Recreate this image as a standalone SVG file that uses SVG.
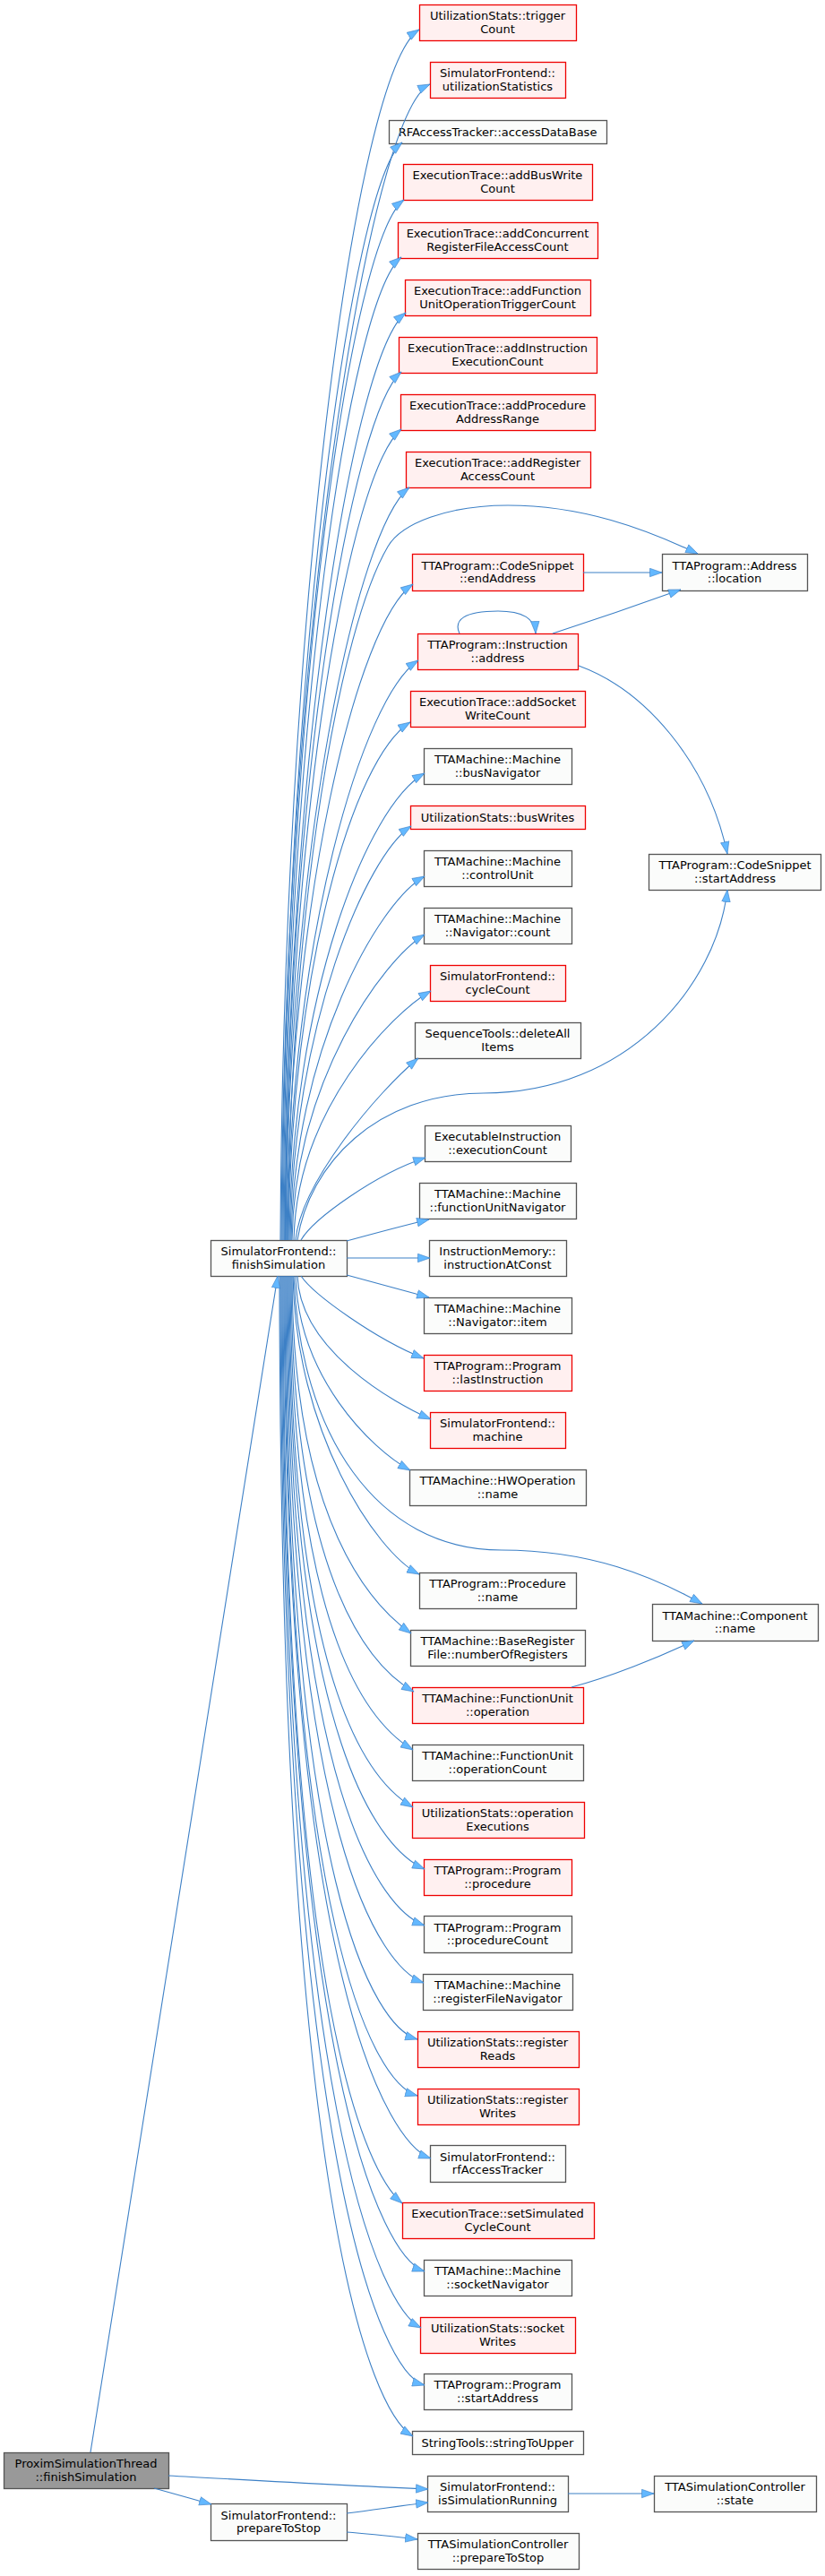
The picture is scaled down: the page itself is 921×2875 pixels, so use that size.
<svg xmlns="http://www.w3.org/2000/svg" width="921" height="2875" viewBox="0 0 921 2875">
<style>
rect.w{fill:#fbfcfb;stroke:#555555;stroke-width:1.3}
rect.r{fill:#fff0f0;stroke:#ee0000;stroke-width:1.3}
rect.g{fill:#999999;stroke:#555555;stroke-width:1.3}
text{font-family:"DejaVu Sans","Liberation Sans",sans-serif;font-size:13px;fill:#000;text-anchor:middle}
#edges path{fill:none;stroke:#3d80c6;stroke-width:1.1;marker-end:url(#ah)}
</style>
<defs>
<marker id="ah" markerUnits="userSpaceOnUse" markerWidth="15" markerHeight="11" viewBox="0 0 15 11" refX="14" refY="5.5" orient="auto">
<path d="M0.5,0.8 L14,5.5 L0.5,10.2 z" fill="#63b8ff" stroke="#3d80c6" stroke-width="0.6"/>
</marker>
</defs>
<rect width="921" height="2875" fill="#ffffff"/>

<g id="n_triggerCount"><rect class="r" x="468.5" y="5.5" width="175" height="40"/><text x="555.5" y="22">UtilizationStats::trigger</text><text x="555.5" y="36.5">Count</text></g>
<g id="n_utilizationStatistics"><rect class="r" x="480.5" y="69.5" width="151" height="40"/><text x="555.5" y="86">SimulatorFrontend::</text><text x="555.5" y="100.5">utilizationStatistics</text></g>
<g id="n_accessDataBase"><rect class="w" x="434.5" y="134.5" width="243" height="26"/><text x="555.5" y="152">RFAccessTracker::accessDataBase</text></g>
<g id="n_addBusWriteCount"><rect class="r" x="450.5" y="183.5" width="211" height="40"/><text x="555.5" y="200">ExecutionTrace::addBusWrite</text><text x="555.5" y="214.5">Count</text></g>
<g id="n_addConcurrent"><rect class="r" x="444.5" y="248.5" width="223" height="40"/><text x="555.5" y="265">ExecutionTrace::addConcurrent</text><text x="555.5" y="279.5">RegisterFileAccessCount</text></g>
<g id="n_addFunctionUnit"><rect class="r" x="452.5" y="312.5" width="207" height="40"/><text x="555.5" y="329">ExecutionTrace::addFunction</text><text x="555.5" y="343.5">UnitOperationTriggerCount</text></g>
<g id="n_addInstruction"><rect class="r" x="445.5" y="376.5" width="221" height="40"/><text x="555.5" y="393">ExecutionTrace::addInstruction</text><text x="555.5" y="407.5">ExecutionCount</text></g>
<g id="n_addProcedure"><rect class="r" x="447.5" y="440.5" width="217" height="40"/><text x="555.5" y="457">ExecutionTrace::addProcedure</text><text x="555.5" y="471.5">AddressRange</text></g>
<g id="n_addRegister"><rect class="r" x="453.5" y="504.5" width="206" height="40"/><text x="555.5" y="521">ExecutionTrace::addRegister</text><text x="555.5" y="535.5">AccessCount</text></g>
<g id="n_location"><rect class="w" x="739.5" y="618.5" width="162" height="41"/><text x="820" y="635.5">TTAProgram::Address</text><text x="820" y="650">::location</text></g>
<g id="n_endAddress"><rect class="r" x="460.5" y="618.5" width="191" height="41"/><text x="555.5" y="635.5">TTAProgram::CodeSnippet</text><text x="555.5" y="650">::endAddress</text></g>
<g id="n_instrAddress"><rect class="r" x="466.5" y="707.5" width="179" height="40"/><text x="555.5" y="724">TTAProgram::Instruction</text><text x="555.5" y="738.5">::address</text></g>
<g id="n_addSocket"><rect class="r" x="458.5" y="771.5" width="195" height="40"/><text x="555.5" y="788">ExecutionTrace::addSocket</text><text x="555.5" y="802.5">WriteCount</text></g>
<g id="n_busNavigator"><rect class="w" x="473.5" y="835.5" width="165" height="40"/><text x="555.5" y="852">TTAMachine::Machine</text><text x="555.5" y="866.5">::busNavigator</text></g>
<g id="n_busWrites"><rect class="r" x="458.5" y="899.5" width="195" height="26"/><text x="555.5" y="917">UtilizationStats::busWrites</text></g>
<g id="n_controlUnit"><rect class="w" x="473.5" y="949.5" width="165" height="40"/><text x="555.5" y="966">TTAMachine::Machine</text><text x="555.5" y="980.5">::controlUnit</text></g>
<g id="n_snippetStart"><rect class="w" x="724.5" y="953.5" width="192" height="40"/><text x="820.5" y="970">TTAProgram::CodeSnippet</text><text x="820.5" y="984.5">::startAddress</text></g>
<g id="n_navCount"><rect class="w" x="473.5" y="1013.5" width="165" height="40"/><text x="555.5" y="1030">TTAMachine::Machine</text><text x="555.5" y="1044.5">::Navigator::count</text></g>
<g id="n_cycleCount"><rect class="r" x="480.5" y="1077.5" width="151" height="40"/><text x="555.5" y="1094">SimulatorFrontend::</text><text x="555.5" y="1108.5">cycleCount</text></g>
<g id="n_deleteAllItems"><rect class="w" x="463.5" y="1141.5" width="185" height="40"/><text x="555.5" y="1158">SequenceTools::deleteAll</text><text x="555.5" y="1172.5">Items</text></g>
<g id="n_executionCount"><rect class="w" x="474.5" y="1256.5" width="163" height="40"/><text x="555.5" y="1273">ExecutableInstruction</text><text x="555.5" y="1287.5">::executionCount</text></g>
<g id="n_fuNavigator"><rect class="w" x="468.5" y="1320.5" width="175" height="40"/><text x="555.5" y="1337">TTAMachine::Machine</text><text x="555.5" y="1351.5">::functionUnitNavigator</text></g>
<g id="n_instructionAtConst"><rect class="w" x="479.5" y="1384.5" width="153" height="40"/><text x="555.5" y="1401">InstructionMemory::</text><text x="555.5" y="1415.5">instructionAtConst</text></g>
<g id="n_navItem"><rect class="w" x="473.5" y="1448.5" width="165" height="40"/><text x="555.5" y="1465">TTAMachine::Machine</text><text x="555.5" y="1479.5">::Navigator::item</text></g>
<g id="n_lastInstruction"><rect class="r" x="473.5" y="1512.5" width="165" height="40"/><text x="555.5" y="1529">TTAProgram::Program</text><text x="555.5" y="1543.5">::lastInstruction</text></g>
<g id="n_machine"><rect class="r" x="480.5" y="1576.5" width="151" height="40"/><text x="555.5" y="1593">SimulatorFrontend::</text><text x="555.5" y="1607.5">machine</text></g>
<g id="n_hwopName"><rect class="w" x="457.5" y="1640.5" width="197" height="40"/><text x="555.5" y="1657">TTAMachine::HWOperation</text><text x="555.5" y="1671.5">::name</text></g>
<g id="n_procName"><rect class="w" x="468.5" y="1755.5" width="175" height="40"/><text x="555.5" y="1772">TTAProgram::Procedure</text><text x="555.5" y="1786.5">::name</text></g>
<g id="n_componentName"><rect class="w" x="728.5" y="1790.5" width="185" height="41"/><text x="820.5" y="1807.5">TTAMachine::Component</text><text x="820.5" y="1822">::name</text></g>
<g id="n_numberOfRegisters"><rect class="w" x="458.5" y="1819.5" width="195" height="40"/><text x="555.5" y="1836">TTAMachine::BaseRegister</text><text x="555.5" y="1850.5">File::numberOfRegisters</text></g>
<g id="n_fuOperation"><rect class="r" x="460.5" y="1883.5" width="191" height="40"/><text x="555.5" y="1900">TTAMachine::FunctionUnit</text><text x="555.5" y="1914.5">::operation</text></g>
<g id="n_operationCount"><rect class="w" x="460.5" y="1947.5" width="191" height="40"/><text x="555.5" y="1964">TTAMachine::FunctionUnit</text><text x="555.5" y="1978.5">::operationCount</text></g>
<g id="n_operationExecutions"><rect class="r" x="460.5" y="2011.5" width="192" height="40"/><text x="555.5" y="2028">UtilizationStats::operation</text><text x="555.5" y="2042.5">Executions</text></g>
<g id="n_procedure"><rect class="r" x="473.5" y="2075.5" width="165" height="40"/><text x="555.5" y="2092">TTAProgram::Program</text><text x="555.5" y="2106.5">::procedure</text></g>
<g id="n_procedureCount"><rect class="w" x="473.5" y="2138.5" width="165" height="41"/><text x="555.5" y="2155.5">TTAProgram::Program</text><text x="555.5" y="2170">::procedureCount</text></g>
<g id="n_rfNavigator"><rect class="w" x="472.5" y="2203.5" width="167" height="40"/><text x="555.5" y="2220">TTAMachine::Machine</text><text x="555.5" y="2234.5">::registerFileNavigator</text></g>
<g id="n_registerReads"><rect class="r" x="466.5" y="2267.5" width="180" height="40"/><text x="555.5" y="2284">UtilizationStats::register</text><text x="555.5" y="2298.5">Reads</text></g>
<g id="n_registerWrites"><rect class="r" x="466.5" y="2331.5" width="180" height="40"/><text x="555.5" y="2348">UtilizationStats::register</text><text x="555.5" y="2362.5">Writes</text></g>
<g id="n_rfAccessTracker"><rect class="w" x="480.5" y="2394.5" width="151" height="41"/><text x="555.5" y="2411.5">SimulatorFrontend::</text><text x="555.5" y="2426">rfAccessTracker</text></g>
<g id="n_setSimulated"><rect class="r" x="449.5" y="2458.5" width="214" height="40"/><text x="555.5" y="2475">ExecutionTrace::setSimulated</text><text x="555.5" y="2489.5">CycleCount</text></g>
<g id="n_socketNavigator"><rect class="w" x="473.5" y="2522.5" width="165" height="40"/><text x="555.5" y="2539">TTAMachine::Machine</text><text x="555.5" y="2553.5">::socketNavigator</text></g>
<g id="n_socketWrites"><rect class="r" x="469.5" y="2586.5" width="173" height="40"/><text x="555.5" y="2603">UtilizationStats::socket</text><text x="555.5" y="2617.5">Writes</text></g>
<g id="n_progStartAddress"><rect class="w" x="473.5" y="2649.5" width="165" height="40"/><text x="555.5" y="2666">TTAProgram::Program</text><text x="555.5" y="2680.5">::startAddress</text></g>
<g id="n_stringToUpper"><rect class="w" x="460.5" y="2713.5" width="191" height="26"/><text x="555.5" y="2731">StringTools::stringToUpper</text></g>
<g id="n_isSimulationRunning"><rect class="w" x="477.5" y="2763.5" width="157" height="40"/><text x="555.5" y="2780">SimulatorFrontend::</text><text x="555.5" y="2794.5">isSimulationRunning</text></g>
<g id="n_state"><rect class="w" x="730.5" y="2763.5" width="181" height="40"/><text x="820.5" y="2780">TTASimulationController</text><text x="820.5" y="2794.5">::state</text></g>
<g id="n_ctrlPrepareToStop"><rect class="w" x="466.5" y="2827.5" width="180" height="40"/><text x="556" y="2844">TTASimulationController</text><text x="556" y="2858.5">::prepareToStop</text></g>
<g id="n_finishSimulation"><rect class="w" x="235.5" y="1384.5" width="152" height="40"/><text x="311" y="1401">SimulatorFrontend::</text><text x="311" y="1415.5">finishSimulation</text></g>
<g id="n_proxim"><rect class="g" x="4.5" y="2737.5" width="184" height="40"/><text x="96" y="2754">ProximSimulationThread</text><text x="96" y="2768.5">::finishSimulation</text></g>
<g id="n_prepareToStop"><rect class="w" x="235.5" y="2794.5" width="152" height="41"/><text x="311" y="2811.5">SimulatorFrontend::</text><text x="311" y="2826">prepareToStop</text></g>

<g id="edges">
<path d="M313,1384 C316,700 395,80 468,33"/>
<path d="M314,1384 C317,713 412,126 480,94"/>
<path d="M315,1384 C318,747 392,207 449,159"/>
<path d="M316,1384 C319,780 391,268 451,223"/>
<path d="M317,1384 C320,814 390,335 448,287"/>
<path d="M318,1384 C321,846 394,396 453,349"/>
<path d="M318,1384 C321,880 392,465 448,415"/>
<path d="M319,1384 C322,913 390,527 448,479"/>
<path d="M319,1384 C322,947 398,591 457,544"/>
<path d="M321,1384 C325,1000 380,700 433,610 C448,584 500,564 567,564 C650,564 720,590 779,618"/>
<path d="M320,1384 C323,1003 399,695 461,652"/>
<path d="M321,1384 C324,1048 405,778 467,737"/>
<path d="M322,1384 C325,1083 394,846 458,806"/>
<path d="M323,1384 C326,1113 409,900 474,863"/>
<path d="M324,1384 C327,1144 409,955 459,922"/>
<path d="M325,1384 C328,1173 422,1007 474,978"/>
<path d="M326,1384 C329,1207 427,1072 474,1043"/>
<path d="M328,1384 C331,1239 437,1131 481,1106"/>
<path d="M330,1384 C336,1320 421,1219 467,1181"/>
<path d="M332,1384 C345,1300 420,1220 540,1220 C700,1220 800,1100 812,993"/>
<path d="M336,1384 C350,1360 420,1310 475,1292"/>
<path d="M387,1385 C420,1376 450,1368 479,1361"/>
<path d="M387,1404 L480,1404"/>
<path d="M387,1423 C420,1432 450,1440 479,1448"/>
<path d="M336,1424 C350,1445 420,1495 473,1516"/>
<path d="M332,1424 C335,1507 440,1566 481,1584"/>
<path d="M330,1424 C333,1537 414,1617 458,1641"/>
<path d="M328,1424 C335,1600 420,1730 560,1730 C660,1730 730,1760 784,1790"/>
<path d="M327,1424 C330,1597 419,1732 468,1757"/>
<path d="M326,1424 C327,1703 418,1794 459,1823"/>
<path d="M325,1424 C326,1772 418,1863 462,1888"/>
<path d="M324,1424 C325,1837 418,1927 461,1953"/>
<path d="M323,1424 C324,1898 418,1992 461,2017"/>
<path d="M322,1424 C323,1954 428,2066 474,2086"/>
<path d="M321,1424 C322,2004 427,2132 474,2149"/>
<path d="M320,1424 C321,2055 426,2196 473,2213"/>
<path d="M319,1424 C320,2106 418,2262 466,2276"/>
<path d="M318,1424 C319,2156 418,2325 466,2339"/>
<path d="M317,1424 C318,2212 434,2392 481,2409"/>
<path d="M316,1424 C317,2252 411,2427 449,2459"/>
<path d="M315,1424 C316,2313 427,2519 474,2535"/>
<path d="M314,1424 C315,2363 426,2575 470,2598"/>
<path d="M313,1424 C314,2414 426,2649 474,2662"/>
<path d="M312,1424 C313,2460 414,2691 461,2719"/>
<path d="M651,639 L739,639"/>
<path d="M617,707 C660,693 710,676 760,658"/>
<path d="M513,707 C506,692 518,682 556,682 C580,682 597,688 598,707"/>
<path d="M646,743 C720,770 790,850 812,953"/>
<path d="M638,1883 C680,1872 735,1850 775,1831"/>
<path d="M634,2783 L730,2783"/>
<path d="M101,2737 C200,2100 290,1560 310,1424"/>
<path d="M188,2763 C280,2768 380,2774 478,2778"/>
<path d="M172,2777 C190,2782 215,2789 236,2795"/>
<path d="M387,2805 C420,2801 450,2796 478,2793"/>
<path d="M387,2826 C415,2828 440,2831 466,2834"/>
</g>
</svg>
